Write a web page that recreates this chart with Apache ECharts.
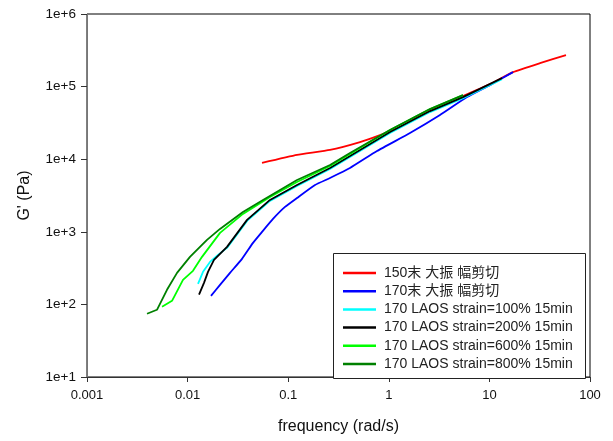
<!DOCTYPE html>
<html>
<head>
<meta charset="utf-8">
<script src="https://cdn.jsdelivr.net/npm/echarts@6/dist/echarts.min.js"></script>
<style>html,body{margin:0;padding:0;background:#fff;}#c{width:613px;height:441px;}</style>
</head>
<body>
<div id="c"></div>
<script>
// ---- data ----
const seriesNames = ['150末 大振 幅剪切', '170末 大振 幅剪切', '170 LAOS strain=100% 15min', '170 LAOS strain=200% 15min', '170 LAOS strain=600% 15min', '170 LAOS strain=800% 15min'];
const xTickLabels = ['0.001', '0.01', '0.1', '1', '10', '100'];
const yTickLabels = ['1e+1', '1e+2', '1e+3', '1e+4', '1e+5', '1e+6'];

const red150X = [0.0549, 0.1224, 0.2603, 0.5172, 0.8176, 1.292, 2.568, 5.465, 10.14, 17.16, 31.84, 57.73];
const red150Y = [8866, 11430, 13420, 17240, 21520, 27730, 47520, 74030, 108200, 158200, 210500, 271300];

const blue170X = [0.01708, 0.0210, 0.02639, 0.03474, 0.04468, 0.05493, 0.07061, 0.09294, 0.1224, 0.1847, 0.2603, 0.4114, 0.7633, 1.624, 3.228, 5.988, 10.14, 17.16];
const blue170Y = [131, 186, 272, 424, 704, 997, 1504, 2200, 2926, 4418, 5513, 7568, 12970, 22930, 40550, 71720, 104900, 158200];

const cyan100X = [0.01269, 0.01423, 0.01670, 0.02005, 0.02465, 0.0390, 0.0659, 0.1224, 0.2603, 0.4114, 1.028, 2.568, 5.465, 13.35];
const cyan100Y = [192, 281, 385, 481, 600, 1413, 2661, 4280, 7332, 10720, 22930, 44600, 69480, 126800];

const black200X = [0.01299, 0.01455, 0.01595, 0.01830, 0.02465, 0.0390, 0.0659, 0.1224, 0.2603, 0.4114, 1.028, 2.568, 5.465, 13.35];
const black200Y = [136, 198, 281, 411, 620, 1458, 2747, 4418, 7568, 11070, 23660, 46030, 71720, 130900];

const lime600X = [0.00557, 0.00700, 0.00900, 0.01131, 0.01391, 0.0210, 0.0355, 0.0659, 0.1224, 0.2603, 0.4114, 1.028, 2.568, 5.465];
const lime600Y = [92.7, 112, 218, 290, 452, 966, 1763, 3020, 4858, 8064, 11790, 25220, 49050, 76390];

const green800X = [0.00395, 0.00496, 0.00624, 0.00785, 0.01056, 0.01559, 0.0210, 0.0355, 0.0562, 0.1224, 0.2603, 0.4114, 1.028, 2.568, 5.465];
const green800Y = [74.3, 84.3, 158.8, 272, 451.6, 774, 1096, 1877, 2747, 5174, 8322, 12170, 25220, 49050, 76390];

// ---- chart ----
const FONT = "'Liberation Sans', Arial, 'Noto Sans CJK SC', sans-serif";
const zip = (xs, ys) => xs.map((x, i) => [x, ys[i]]);
const colors = ['#ff0000', '#0000ff', '#00ffff', '#000000', '#00ff00', '#008000'];
const smoothness = [0.15, 0.15, false, false, false, false];
const dataSets = [zip(red150X, red150Y), zip(blue170X, blue170Y), zip(cyan100X, cyan100Y), zip(black200X, black200Y), zip(lime600X, lime600Y), zip(green800X, green800Y)];

const chart = echarts.init(document.getElementById('c'), null, {renderer: 'canvas'});
chart.setOption({
  animation: false,
  backgroundColor: '#fff',
  textStyle: {fontFamily: FONT},
  grid: {left: 87, right: 23, top: 14, bottom: 64, show: true, borderColor: '#000', borderWidth: 1, backgroundColor: 'transparent'},
  xAxis: {
    type: 'log', logBase: 10, min: 0.001, max: 100,
    name: 'frequency (rad/s)', nameLocation: 'middle', nameGap: 42,
    nameTextStyle: {fontSize: 16, color: '#111', fontFamily: FONT},
    axisLine: {lineStyle: {color: '#333', width: 1}},
    axisTick: {length: 5, lineStyle: {color: '#333'}},
    splitLine: {show: false},
    minorTick: {show: false},
    axisLabel: {fontSize: 13, color: '#111', margin: 12, fontFamily: FONT,
      formatter: v => xTickLabels[Math.round(Math.log10(v)) + 3]}
  },
  yAxis: {
    type: 'log', logBase: 10, min: 10, max: 1000000,
    name: "G' (Pa)", nameLocation: 'middle', nameGap: 54,
    nameTextStyle: {fontSize: 16, color: '#111', fontFamily: FONT},
    axisLine: {lineStyle: {color: '#777', width: 1}},
    axisTick: {length: 6, lineStyle: {color: '#333'}},
    splitLine: {show: false},
    minorTick: {show: false},
    axisLabel: {fontSize: 13.5, color: '#111', margin: 11, fontFamily: FONT,
      formatter: v => yTickLabels[Math.round(Math.log10(v)) - 1]}
  },
  graphic: [{
    type: 'rect', z: 3,
    shape: {x: 333.5, y: 253.5, width: 252, height: 125},
    style: {fill: '#fff', stroke: '#222', lineWidth: 1}
  }],
  legend: {
    orient: 'vertical', left: 343, top: 265, padding: 0, z: 10,
    itemWidth: 33, itemHeight: 2.5, itemGap: 2.2, icon: 'rect',
    textStyle: {fontSize: 14, color: '#222', lineHeight: 16, fontFamily: FONT, padding: [0, 0, 0, 3]},
    data: seriesNames
  },
  series: seriesNames.map((n, i) => ({
    name: n, type: 'line', data: dataSets[i], showSymbol: false, symbol: 'none',
    smooth: smoothness[i], z: 2 + i * 0.01,
    lineStyle: {color: colors[i], width: 1.8},
    itemStyle: {color: colors[i]}
  }))
});
</script>
</body>
</html>
